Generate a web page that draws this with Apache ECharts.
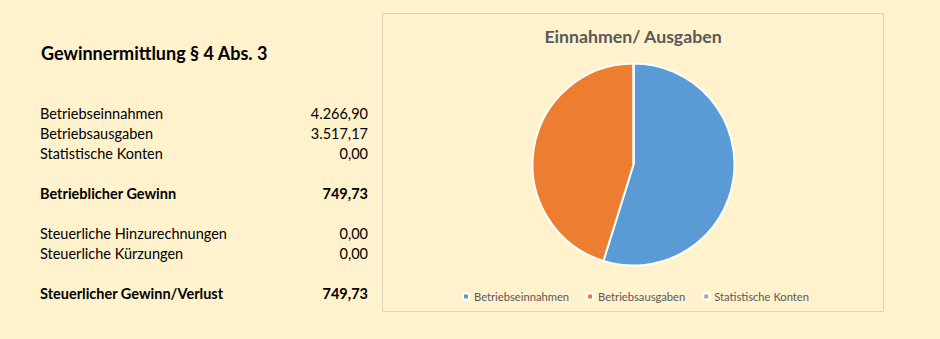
<!DOCTYPE html>
<html>
<head>
<meta charset="utf-8">
<script src="https://cdn.jsdelivr.net/npm/echarts@6/dist/echarts.min.js"></script>
<style>
html,body{margin:0;padding:0;background:#FFF2CC;}
#c{width:940px;height:339px;}
</style>
</head>
<body>
<div id="c"></div>
<script>
const pageTitle = 'Gewinnermittlung § 4 Abs. 3';
const chartTitle = 'Einnahmen/ Ausgaben';
const rowLabels = ['Betriebseinnahmen','Betriebsausgaben','Statistische Konten','Betrieblicher Gewinn','Steuerliche Hinzurechnungen','Steuerliche Kürzungen','Steuerlicher Gewinn/Verlust'];
const rowValues = ['4.266,90','3.517,17','0,00','749,73','0,00','0,00','749,73'];
const rowBold = [false,false,false,true,false,false,true];
const rowY = [113,133,153,193,233,253,293];
const pieCategories = ['Betriebseinnahmen','Betriebsausgaben','Statistische Konten'];
const pieValues = [4266.90, 3517.17, 0.00];
const pieColors = ['#5B9BD5','#ED7D31','#A5A5A5'];

const FONT = 'Lato, "Open Sans", sans-serif';
const chart = echarts.init(document.getElementById('c'), null, {renderer:'svg'});

const graphics = [
  {type:'rect', shape:{x:382.5,y:13.5,width:501,height:298}, style:{fill:'#FFF2CC', stroke:'#DCD3B8', lineWidth:1}, z:-10},
  {type:'text', x:41, y:53, style:{text:pageTitle, fontFamily:FONT, fontSize:18, fontWeight:'bold', fill:'#000', textVerticalAlign:'middle'}}
];
rowLabels.forEach((l,i)=>{
  graphics.push({type:'text', x:40, y:rowY[i], style:{text:l, fontFamily:FONT, fontSize:14.5, fontWeight: rowBold[i]?'bold':'normal', fill:'#000', textVerticalAlign:'middle'}});
  graphics.push({type:'text', x:368, y:rowY[i], style:{text:rowValues[i], fontFamily:FONT, fontSize:14.5, fontWeight: rowBold[i]?'bold':'normal', fill:'#000', textAlign:'right', textVerticalAlign:'middle'}});
});

chart.setOption({
  backgroundColor:'#FFF2CC',
  animation:false,
  color: pieColors,
  title:{text:chartTitle, left:628, top:22, textAlign:'center', textStyle:{fontFamily:FONT, fontSize:17.7, fontWeight:'bold', color:'#595959'}},
  legend:{
    data: pieCategories, left:457, top:286, icon:'rect', itemWidth:6, itemHeight:6, itemGap:17,
    textStyle:{fontFamily:FONT, fontSize:11.2, color:'#595959'}
  },
  graphic: graphics,
  series:[{
    type:'pie', center:[633.5,164.5], radius:[0,101], startAngle:90, clockwise:true,
    label:{show:false}, labelLine:{show:false}, emphasis:{disabled:true},
    itemStyle:{borderColor:'#fff', borderWidth:2},
    data: pieCategories.map((n,i)=>({name:n, value:pieValues[i]}))
  }]
});
</script>
</body>
</html>
